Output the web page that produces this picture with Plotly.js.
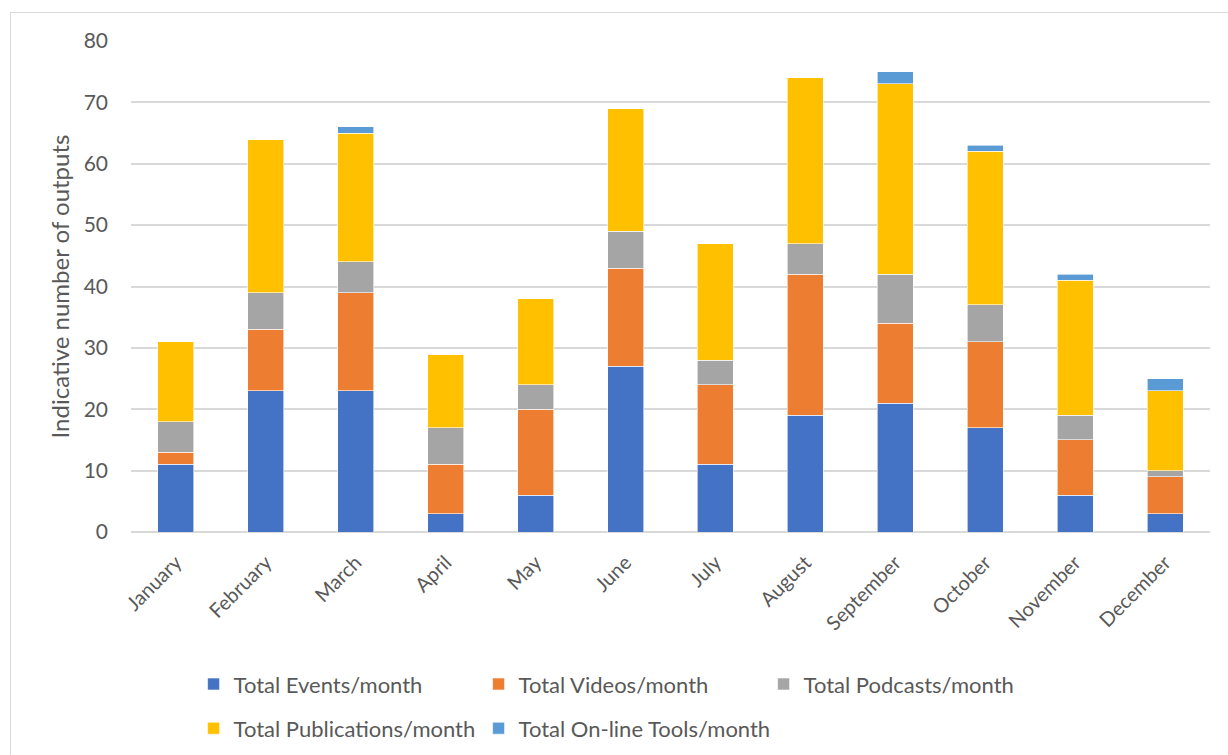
<!DOCTYPE html>
<html>
<head>
<meta charset="utf-8">
<script src="https://cdn.plot.ly/plotly-3.0.1.min.js"></script>
<style>
html,body{margin:0;padding:0;background:#fff;overflow:hidden;width:1228px;height:755px;}
#frame{position:absolute;left:10px;top:12px;width:1400px;height:900px;border:1.5px solid #d9d9d9;box-sizing:border-box;}
#chart{position:absolute;left:0;top:0;width:1228px;height:755px;}
</style>
</head>
<body>
<div id="frame"></div>
<div id="chart"></div>
<script>
const months = ["January","February","March","April","May","June","July","August","September","October","November","December"];
const events       = [11, 23, 23,  3,  6, 27, 11, 19, 21, 17,  6,  3];
const videos       = [ 2, 10, 16,  8, 14, 16, 13, 23, 13, 14,  9,  6];
const podcasts     = [ 5,  6,  5,  6,  4,  6,  4,  5,  8,  6,  4,  1];
const publications = [13, 25, 21, 12, 14, 20, 19, 27, 31, 25, 22, 13];
const tools        = [ 0,  0,  1,  0,  0,  0,  0,  0,  2,  1,  1,  2];

const seriesNames = ["Total Events/month","Total Videos/month","Total Podcasts/month","Total Publications/month","Total On-line Tools/month"];
const seriesColors = ["#4472C4","#ED7D31","#A5A5A5","#FFC000","#5B9BD5"];
const seriesData = [events, videos, podcasts, publications, tools];
const legendIds = ["legend","legend","legend","legend2","legend3"];

const FONT = "Lato, 'Open Sans', sans-serif";
const traces = seriesData.map((vals, i) => ({
  type: "bar",
  name: seriesNames[i],
  x: months,
  y: vals,
  legend: legendIds[i],
  marker: {color: seriesColors[i], line: {color: "rgba(255,255,255,0.8)", width: 0.75}},
  hoverinfo: "x+y+name"
}));

const legendFont = {family: FONT, size: 22, color: "#595959"};
const layout = {
  width: 1228, height: 755,
  paper_bgcolor: "rgba(0,0,0,0)", plot_bgcolor: "rgba(0,0,0,0)",
  barmode: "stack",
  bargap: 0.6,
  margin: {l: 131, r: 18, t: 41, b: 223, autoexpand: false},
  font: {family: FONT, color: "#595959"},
  xaxis: {
    automargin: false,
    tickangle: -45,
    tickfont: {family: FONT, size: 20, color: "#595959"},
    ticklabelstandoff: 14,
    showgrid: false, zeroline: false, showline: false, ticks: ""
  },
  yaxis: {
    automargin: false,
    range: [0, 80], dtick: 10,
    tickfont: {family: FONT, size: 21, color: "#595959"},
    gridcolor: "#D9D9D9", gridwidth: 1.6,
    zeroline: true, zerolinecolor: "#D9D9D9", zerolinewidth: 1.6,
    ticks: "", ticklabelstandoff: 22,
    title: {text: "Indicative number of outputs", font: {family: FONT, size: 24, color: "#595959"}, standoff: 7}
  },
  showlegend: true,
  legend: {
    orientation: "h", x: 0.058, xanchor: "left", y: -0.31, yanchor: "middle",
    entrywidth: 240, entrywidthmode: "pixels",
    font: legendFont, traceorder: "normal"
  },
  legend2: {
    orientation: "h", x: 0.058, xanchor: "left", y: -0.40, yanchor: "middle",
    font: legendFont
  },
  legend3: {
    orientation: "h", x: 0.058 + 285 / 1079, xanchor: "left", y: -0.40, yanchor: "middle",
    font: legendFont
  }
};

Plotly.newPlot("chart", traces, layout, {displayModeBar: false, responsive: false});
</script>
</body>
</html>
